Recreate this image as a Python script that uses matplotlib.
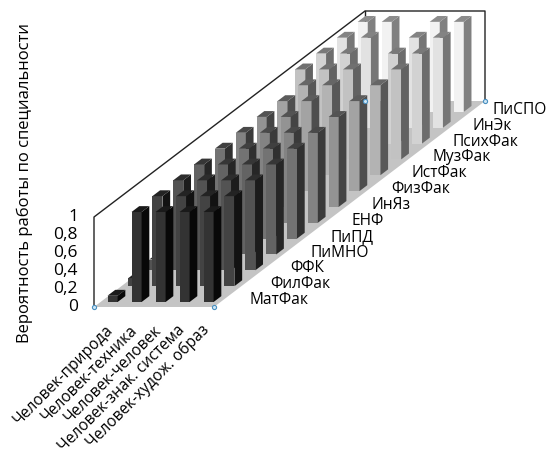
import matplotlib
matplotlib.use("Agg")
import matplotlib.pyplot as plt
from matplotlib.patches import Polygon

plt.rcParams["font.family"] = ["Open Sans", "DejaVu Sans"]

faculties = ["МатФак", "ФилФак", "ФФК", "ПиМНО", "ПиПД", "ЕНФ", "ИнЯз",
             "ФизФак", "ИстФак", "МузФак", "ПсихФак", "ИнЭк", "ПиСПО"]
types = ["Человек-природа", "Человек-техника", "Человек-человек",
         "Человек-знак. система", "Человек-худож. образ"]
y_ticks = ["0", "0,2", "0,4", "0,6", "0,8", "1"]

# one list per faculty, in the order of types
mat_fak = [0.07, 1, 1, 1, 1]
fil_fak = [0.09, 1, 1, 1, 1]
ffk = [0.12, 1, 1, 1, 1]
pimno = [0, 1, 1, 1, 1]
pipd = [0, 1, 1, 1, 1]
enf = [0, 1, 1, 1, 1]
inyaz = [0, 1, 1, 0, 1]
fiz_fak = [0, 1, 1, 0, 1]
ist_fak = [0, 1, 1, 0, 1]
muz_fak = [1, 1, 1, 0, 1]
psikh_fak = [1, 1, 0, 1, 1]
in_ek = [1, 1, 0, 1, 1]
pispo = [1, 1, 0, 1, 1]
values = [mat_fak, fil_fak, ffk, pimno, pipd, enf, inyaz,
          fiz_fak, ist_fak, muz_fak, psikh_fak, in_ek, pispo]

# oblique projection in pixels
X0, Y0 = 94, 307
CELL_W = 24.0
DX, DY = 271 / 13, -206 / 13
H = 90.0
BAR_W, BAR_D = 0.42, 0.37


def proj(col, row, v=0.0):
    return X0 + col * CELL_W + row * DX, Y0 + row * DY - v * H


def shade(row):
    t = row / 12
    front = 0.2 + t * 0.75
    side = 0.03 + t * 0.47
    top = 0.1 + t * 0.45
    return (front,) * 3, (side,) * 3, (top,) * 3


def bar(ax, col, row, v):
    c0 = col + (1 - BAR_W) / 2
    c1 = c0 + BAR_W
    r0 = row + (1 - BAR_D) / 2
    r1 = r0 + BAR_D
    front, side, top = shade(row)
    ax.add_patch(Polygon([proj(c0, r0), proj(c1, r0), proj(c1, r0, v), proj(c0, r0, v)],
                         fc=front, ec="none", zorder=3))
    ax.add_patch(Polygon([proj(c1, r0), proj(c1, r1), proj(c1, r1, v), proj(c1, r0, v)],
                         fc=side, ec="none", zorder=3))
    ax.add_patch(Polygon([proj(c0, r0, v), proj(c1, r0, v), proj(c1, r1, v), proj(c0, r1, v)],
                         fc=top, ec="none", zorder=3))


fig = plt.figure(figsize=(5.47, 4.57), dpi=100)
ax = fig.add_axes([0, 0, 1, 1])
ax.set_xlim(0, 547)
ax.set_ylim(457, 0)
ax.axis("off")

n_col, n_row = len(types), len(faculties)
ax.add_patch(Polygon([proj(0, 0), proj(n_col, 0), proj(n_col, n_row), proj(0, n_row)],
                     fc="#c4c4c4", ec="none", zorder=1))
ax.plot(*zip(proj(0, 0), proj(0, 0, 1), proj(0, n_row, 1), proj(n_col, n_row, 1), proj(n_col, n_row)),
        color="#222222", lw=1, zorder=2)
ax.plot(*zip(proj(0, n_row), proj(0, n_row, 1)), color="#222222", lw=1, zorder=2)

for row in range(n_row - 1, -1, -1):
    for col in range(n_col):
        v = values[row][col]
        if v > 0:
            bar(ax, col, row, v)

# selection handles
for pt in [proj(0, 0), proj(n_col, 0), proj(0, n_row), proj(n_col, n_row)]:
    ax.plot(*pt, "o", ms=3, mfc="#cfe6f5", mec="#4a90c0", mew=0.8, zorder=5)

for i, lab in enumerate(y_ticks):
    ax.text(78, Y0 - i * H / 5, lab, ha="right", va="center", fontsize=12.5)
ax.text(25, 183, "Вероятность работы по специальности", rotation=90,
        ha="center", va="center", fontsize=12)

for row, lab in enumerate(faculties):
    x, y = proj(n_col, row + 0.5)
    ax.text(x + 25.5 - 0.6 * row, y + 1, lab, ha="left", va="center", fontsize=11.2)

for col, lab in enumerate(types):
    x, y = proj(col + 0.5, 0)
    ax.text(x - 1, y + 15, lab, rotation=45, ha="right", va="top",
            rotation_mode="anchor", fontsize=11.2)

fig.savefig("out.png", dpi=100)
